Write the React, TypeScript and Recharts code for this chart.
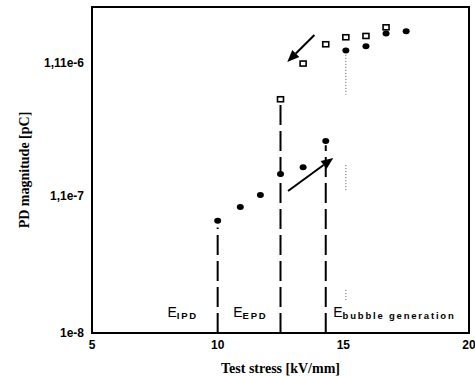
import { ScatterChart, Scatter, XAxis, YAxis, ReferenceLine, ReferenceDot, ReferenceArea } from 'recharts';

// PD magnitude vs test stress
const filledX = [10, 10.9, 11.7, 12.5, 13.4, 14.3, 15.1, 15.9, 16.7, 17.5];
const filledY = [7.1e-8, 9.0e-8, 1.11e-7, 1.6e-7, 1.8e-7, 2.85e-7, 1.38e-6, 1.49e-6, 1.86e-6, 1.93e-6];
const openX = [12.5, 13.4, 14.3, 15.1, 15.9, 16.7];
const openY = [5.9e-7, 1.1e-6, 1.54e-6, 1.74e-6, 1.78e-6, 2.07e-6];

const xTicks = [5, 10, 15, 20];
const yTicks = [1e-8, 1.1e-7, 1.11e-6];
const yTickLabels = ['1e-8', '1,1e-7', '1,11e-6'];

// threshold (dashed) lines: x and the height they reach
const thresholdX = [10, 12.5, 14.3];
const thresholdTop = [6.3e-8, 5.4e-7, 2.65e-7];

// faint dotted pieces under the 15.1 kV/mm point
const dottedX = 15.1;
const dottedFrom = [1.28e-6, 1.87e-7, 2.12e-8];
const dottedTo = [6.4e-7, 1.21e-7, 1.78e-8];

// arrows: tail -> head
const arrowTail = [{ x: 13.85, y: 1.81e-6 }, { x: 12.8, y: 1.19e-7 }];
const arrowHead = [{ x: 12.77, y: 1.13e-6 }, { x: 14.6, y: 2.12e-7 }];

const labelMain = ['E', 'E', 'E'];
const labelSub = ['IPD', 'EPD', 'bubble generation'];
const labelX = [8.0, 10.62, 14.6];
const labelY = 1.32e-8;

const X_DOMAIN: [number, number] = [5, 20];
const Y_DOMAIN: [number, number] = [1e-8, 2.95e-6];

const filled = filledX.map((x, i) => ({ x, y: filledY[i] }));
const open = openX.map((x, i) => ({ x, y: openY[i] }));

const tickFont = { fontFamily: 'Liberation Sans, Arial, sans-serif', fontSize: 12, fontWeight: 700, fill: '#000' };
const titleFont = { fontFamily: 'Liberation Serif, Times New Roman, serif', fontSize: 14, fontWeight: 700, fill: '#000' };

const OpenSquare = (props: any) => {
    const { cx, cy } = props;
    return <rect x={cx - 3} y={cy - 2.5} width={6} height={5} fill="#fff" stroke="#000" strokeWidth={1.6} />;
};

const FilledDot = (props: any) => {
    const { cx, cy } = props;
    return <ellipse cx={cx} cy={cy} rx={3.5} ry={3} fill="#000" />;
};

const Arrow = (props: any) => {
    const { x1, y1, x2, y2 } = props;
    const ang = Math.atan2(y2 - y1, x2 - x1);
    const len = 12;
    const half = 5;
    const bx = x2 - len * Math.cos(ang);
    const by = y2 - len * Math.sin(ang);
    const px = -Math.sin(ang) * half;
    const py = Math.cos(ang) * half;
    return (
        <g>
            <line x1={x1} y1={y1} x2={bx} y2={by} stroke="#000" strokeWidth={2} />
            <polygon points={`${x2},${y2} ${bx + px},${by + py} ${bx - px},${by - py}`} fill="#000" />
        </g>
    );
};

const makeLabel = (i: number) => (props: any) => {
    const { cx, cy } = props;
    return (
        <text x={cx} y={cy} fontFamily="Liberation Sans, Arial, sans-serif" fill="#000">
            <tspan fontSize={14}>{labelMain[i]}</tspan>
            <tspan fontSize={9.5} fontWeight={700} dy={2} letterSpacing={1.8}>{labelSub[i]}</tspan>
        </text>
    );
};

export default function App() {
    return (
        <div style={{ position: 'absolute', left: 0, top: 0, background: '#fff' }}>
            <ScatterChart width={475} height={376} margin={{ top: 7, right: 6, bottom: 0, left: 0 }}>
                <XAxis
                    type="number"
                    dataKey="x"
                    domain={X_DOMAIN}
                    ticks={xTicks}
                    tickLine={false}
                    tickSize={0}
                    tickMargin={7}
                    axisLine={{ stroke: '#000', strokeWidth: 2 }}
                    tick={tickFont}
                    height={43}
                    label={{ value: 'Test stress [kV/mm]', position: 'insideBottom', offset: 3, fill: '#000', style: titleFont }}
                />
                <YAxis
                    type="number"
                    dataKey="y"
                    scale="log"
                    domain={Y_DOMAIN}
                    allowDataOverflow
                    ticks={yTicks}
                    tickFormatter={(v: number) => yTickLabels[yTicks.indexOf(v)] ?? ''}
                    tickLine={false}
                    tickSize={0}
                    tickMargin={8}
                    axisLine={{ stroke: '#000', strokeWidth: 2 }}
                    tick={tickFont}
                    width={92}
                    label={{ value: 'PD magnitude [pC]', angle: -90, position: 'insideLeft', offset: 24, fill: '#000', style: { ...titleFont, textAnchor: 'middle' } }}
                />
                <ReferenceArea
                    x1={X_DOMAIN[0]}
                    x2={X_DOMAIN[1]}
                    y1={Y_DOMAIN[0]}
                    y2={Y_DOMAIN[1]}
                    fill="none"
                    fillOpacity={0}
                    stroke="#000"
                    strokeWidth={2}
                    ifOverflow="visible"
                />
                {thresholdX.map((x, i) => (
                    <ReferenceLine
                        key={`th-${i}`}
                        segment={[{ x, y: Y_DOMAIN[0] }, { x, y: thresholdTop[i] }]}
                        stroke="#000"
                        strokeWidth={2}
                        strokeDasharray="20 6"
                    />
                ))}
                {dottedFrom.map((y, i) => (
                    <ReferenceLine
                        key={`dot-${i}`}
                        segment={[{ x: dottedX, y }, { x: dottedX, y: dottedTo[i] }]}
                        stroke="#555"
                        strokeWidth={1}
                        strokeDasharray="1 2"
                    />
                ))}
                {arrowTail.map((t, i) => (
                    <ReferenceLine key={`arr-${i}`} segment={[t, arrowHead[i]]} shape={Arrow} ifOverflow="visible" />
                ))}
                {labelX.map((x, i) => (
                    <ReferenceDot key={`lab-${i}`} x={x} y={labelY} r={0} shape={makeLabel(i)} ifOverflow="visible" />
                ))}
                <Scatter data={filled} shape={FilledDot} isAnimationActive={false} />
                <Scatter data={open} shape={OpenSquare} isAnimationActive={false} />
            </ScatterChart>
        </div>
    );
}
